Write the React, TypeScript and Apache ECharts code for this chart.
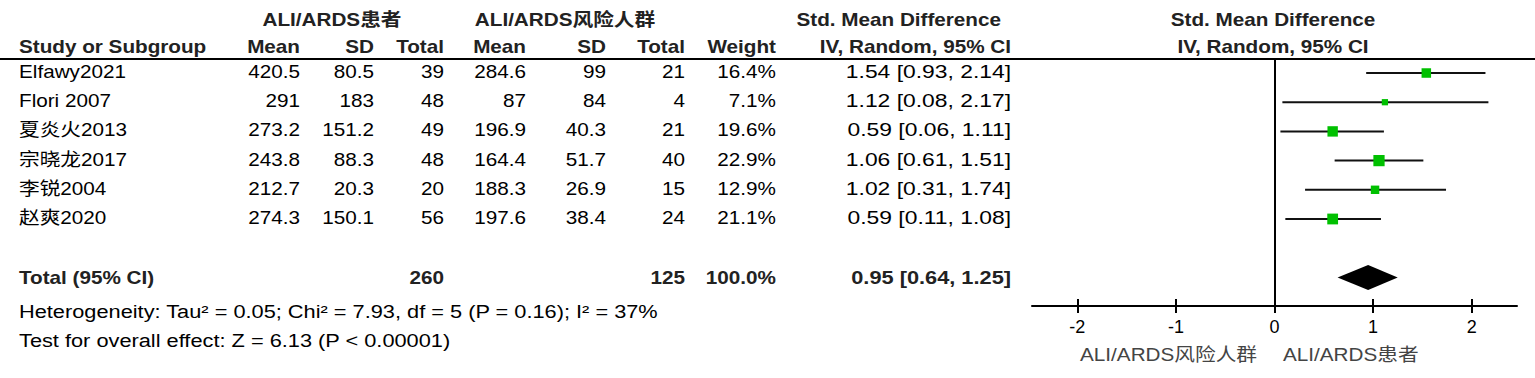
import React, { useEffect, useRef } from "react";
import * as echarts from "echarts";

// ---------- data ----------
const studies = ["Elfawy2021", "Flori 2007", "夏炎火2013", "宗晓龙2017", "李锐2004", "赵爽2020"];
const caseMean = [420.5, 291, 273.2, 243.8, 212.7, 274.3];
const caseSD = [80.5, 183, 151.2, 88.3, 20.3, 150.1];
const caseN = [39, 48, 49, 48, 20, 56];
const riskMean = [284.6, 87, 196.9, 164.4, 188.3, 197.6];
const riskSD = [99, 84, 40.3, 51.7, 26.9, 38.4];
const riskN = [21, 4, 21, 40, 15, 24];
const weights = [16.4, 7.1, 19.6, 22.9, 12.9, 21.1];
const smd = [1.54, 1.12, 0.59, 1.06, 1.02, 0.59];
const ciLow = [0.93, 0.08, 0.06, 0.61, 0.31, 0.11];
const ciHigh = [2.14, 2.17, 1.11, 1.51, 1.74, 1.08];

const totalLabel = "Total (95% CI)";
const totalCaseN = 260;
const totalRiskN = 125;
const totalWeight = 100.0;
const pooled = [0.95, 0.64, 1.25];
const totalRow = 7;

const xTicks = [-2, -1, 0, 1, 2];
const groupCase = "ALI/ARDS患者";
const groupRisk = "ALI/ARDS风险人群";
const heterogeneity = "Heterogeneity: Tau² = 0.05; Chi² = 7.93, df = 5 (P = 0.16); I² = 37%";
const overallTest = "Test for overall effect: Z = 6.13 (P < 0.00001)";

// ---------- style ----------
const FONT = '"Liberation Sans", Arial, "Noto Sans CJK SC", sans-serif';
const SX = 1.15;
const FS = 18;
const COL = { mean1: 300, sd1: 374, n1: 444, mean2: 526, sd2: 606, n2: 685, w: 776, ci: 1011 };

const fmtCI = (m: number, l: number, h: number) =>
  `${m.toFixed(2)} [${l.toFixed(2)}, ${h.toFixed(2)}]`;

function txt(text: string, x: number, y: number, align: string, bold = false, color = "#000", sx = SX) {
  return {
    type: "text",
    x,
    y,
    scaleX: sx,
    silent: true,
    style: {
      text,
      x: 0,
      y: 0,
      fontSize: FS,
      fontFamily: FONT,
      fontWeight: bold ? "bold" : "normal",
      fill: color,
      align,
      textAlign: align,
      verticalAlign: "middle",
      textVerticalAlign: "middle",
    },
  };
}

export default function App() {
  const ref = useRef<HTMLDivElement>(null);
  useEffect(() => {
    document.body.style.margin = "0";
    if (!ref.current) return;
    const chart = echarts.init(ref.current, undefined, { renderer: "svg" });

    const forestData = studies.map((_, i) => [ciLow[i], ciHigh[i], i, smd[i], weights[i]]);
    const tableData = studies.map((_, i) => [0, i]);

    const option: any = {
      animation: false,
      backgroundColor: "#fff",
      grid: { left: 1032, right: 18, top: 59, bottom: 72, containLabel: false },
      xAxis: [
        {
          type: "value",
          min: -2.46,
          max: 2.46,
          position: "bottom",
          axisLine: { show: true, onZero: false, lineStyle: { color: "#000", width: 2 } },
          axisTick: { show: true, inside: true, length: 7, customValues: xTicks, lineStyle: { color: "#000", width: 2 } },
          axisLabel: { show: true, customValues: xTicks, fontSize: FS, fontFamily: FONT, color: "#000", margin: 12 },
          splitLine: { show: false },
        },
        {
          type: "value",
          min: -2.46,
          max: 2.46,
          position: "bottom",
          offset: 0,
          axisLine: { show: false, onZero: false },
          axisTick: { show: true, inside: false, length: 7, customValues: xTicks, lineStyle: { color: "#000", width: 2 } },
          axisLabel: { show: false },
          splitLine: { show: false },
        },
      ],
      yAxis: {
        type: "value",
        inverse: true,
        min: -0.48,
        max: 7.98,
        axisLine: { show: true, onZero: true, onZeroAxisIndex: 0, lineStyle: { color: "#000", width: 2 } },
        axisTick: { show: false },
        axisLabel: { show: false },
        splitLine: { show: false },
      },
      graphic: [
        { type: "line", silent: true, shape: { x1: 0, y1: 59, x2: 1535, y2: 59 }, style: { stroke: "#000", lineWidth: 2 } },
        txt(groupCase, 332, 20, "center", true, "#222"),
        txt(groupRisk, 565, 20, "center", true, "#222"),
        txt("Std. Mean Difference", 1001, 20, "right", true, "#222"),
        txt("Std. Mean Difference", 1273, 20, "center", true, "#222"),
        txt("Study or Subgroup", 19, 47, "left", true, "#222"),
        txt("Mean", COL.mean1, 47, "right", true, "#222"),
        txt("SD", COL.sd1, 47, "right", true, "#222"),
        txt("Total", COL.n1, 47, "right", true, "#222"),
        txt("Mean", COL.mean2, 47, "right", true, "#222"),
        txt("SD", COL.sd2, 47, "right", true, "#222"),
        txt("Total", COL.n2, 47, "right", true, "#222"),
        txt("Weight", COL.w, 47, "right", true, "#222"),
        txt("IV, Random, 95% CI", COL.ci, 47, "right", true, "#222"),
        txt("IV, Random, 95% CI", 1273, 47, "center", true, "#222"),
        txt(heterogeneity, 19, 312, "left", false, "#000", 1.21),
        txt(overallTest, 19, 341, "left", false, "#000", 1.21),
        txt(groupRisk, 1257, 355, "right", false, "#444"),
        txt(groupCase, 1283, 355, "left", false, "#444"),
      ],
      series: [
        {
          type: "custom",
          name: "table",
          clip: false,
          silent: true,
          data: tableData,
          encode: { x: 0, y: 1 },
          renderItem: (params: any, api: any) => {
            const i = api.value(1);
            const y = api.coord([0, i])[1] - 1.5;
            return {
              type: "group",
              children: [
                txt(studies[i], 19, y, "left"),
                txt(String(caseMean[i]), COL.mean1, y, "right"),
                txt(String(caseSD[i]), COL.sd1, y, "right"),
                txt(String(caseN[i]), COL.n1, y, "right"),
                txt(String(riskMean[i]), COL.mean2, y, "right"),
                txt(String(riskSD[i]), COL.sd2, y, "right"),
                txt(String(riskN[i]), COL.n2, y, "right"),
                txt(weights[i].toFixed(1) + "%", COL.w, y, "right"),
                txt(fmtCI(smd[i], ciLow[i], ciHigh[i]), COL.ci, y, "right", false, "#000", 1.27),
              ],
            };
          },
        },
        {
          type: "custom",
          name: "totalRow",
          clip: false,
          silent: true,
          data: [[0, totalRow]],
          encode: { x: 0, y: 1 },
          renderItem: (params: any, api: any) => {
            const y = api.coord([0, api.value(1)])[1] + 0.5;
            return {
              type: "group",
              children: [
                txt(totalLabel, 19, y, "left", true, "#222"),
                txt(String(totalCaseN), COL.n1, y, "right", true, "#222"),
                txt(String(totalRiskN), COL.n2, y, "right", true, "#222"),
                txt(totalWeight.toFixed(1) + "%", COL.w, y, "right", true, "#222"),
                txt(fmtCI(pooled[0], pooled[1], pooled[2]), COL.ci, y, "right", true, "#222", 1.21),
              ],
            };
          },
        },
        {
          type: "custom",
          name: "studies",
          clip: false,
          silent: true,
          data: forestData,
          encode: { x: [0, 1, 3], y: 2 },
          renderItem: (params: any, api: any) => {
            const row = api.value(2);
            const a = api.coord([api.value(0), row]);
            const b = api.coord([api.value(1), row]);
            const c = api.coord([api.value(3), row]);
            const s = 2.35 * Math.sqrt(api.value(4));
            return {
              type: "group",
              children: [
                { type: "line", shape: { x1: a[0], y1: a[1], x2: b[0], y2: b[1] }, style: { stroke: "#111", lineWidth: 2 } },
                { type: "rect", shape: { x: c[0] - s / 2, y: c[1] - s / 2, width: s, height: s }, style: { fill: "#00c000" } },
              ],
            };
          },
        },
        {
          type: "custom",
          name: "pooled",
          clip: false,
          silent: true,
          data: [[pooled[0], pooled[1], pooled[2], totalRow]],
          encode: { x: [0, 1, 2], y: 3 },
          renderItem: (params: any, api: any) => {
            const row = api.value(3);
            const m = api.coord([api.value(0), row]);
            const l = api.coord([api.value(1), row]);
            const h = api.coord([api.value(2), row]);
            const hh = 12.5;
            return {
              type: "polygon",
              shape: { points: [[l[0], m[1]], [m[0], m[1] - hh], [h[0], m[1]], [m[0], m[1] + hh]] },
              style: { fill: "#000" },
            };
          },
        },
      ],
    };
    chart.setOption(option);
    return () => chart.dispose();
  }, []);
  return <div ref={ref} style={{ width: 1535, height: 378 }} />;
}
